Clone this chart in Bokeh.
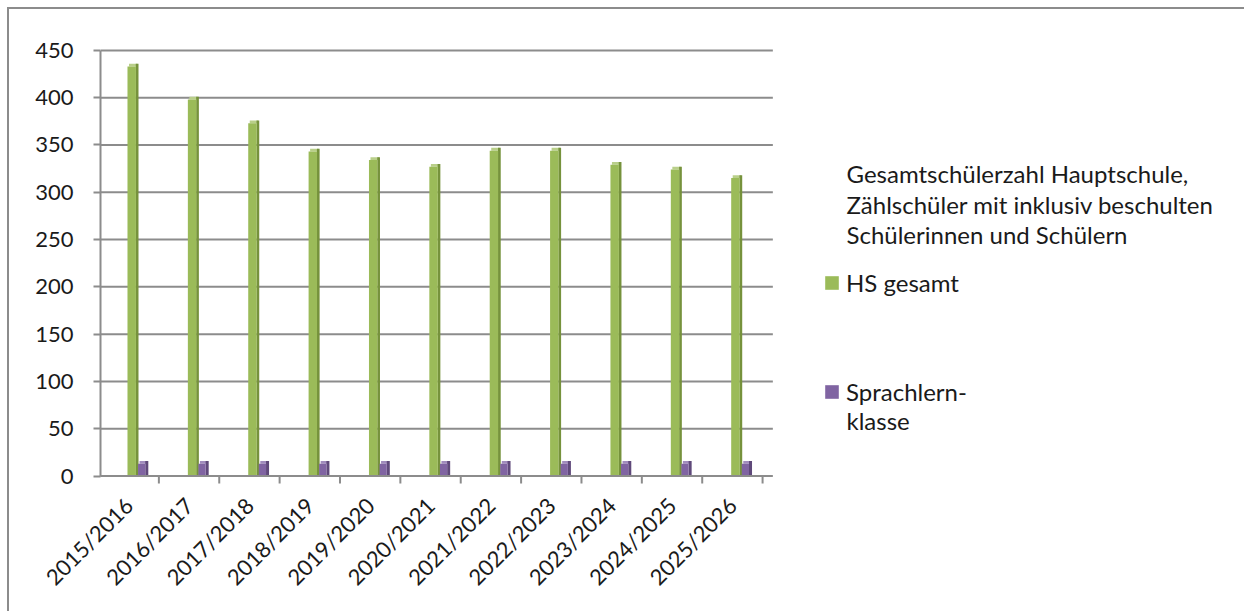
from bokeh.plotting import figure
from bokeh.models import (Range1d, FixedTicker, Legend, LegendItem, Label,
                          ColumnDataSource)
from bokeh.embed import file_html
from bokeh.resources import INLINE
import math

# ---- data ----
years = ["2015/2016", "2016/2017", "2017/2018", "2018/2019", "2019/2020",
         "2020/2021", "2021/2022", "2022/2023", "2023/2024", "2024/2025", "2025/2026"]
hs_gesamt = [433, 398, 373, 343, 334, 327, 344, 344, 329, 324, 315]
sprachlern = [13, 13, 13, 13, 13, 13, 13, 13, 13, 13, 13]
y_ticks = [0, 50, 100, 150, 200, 250, 300, 350, 400, 450]
legend_title = ["Gesamtschülerzahl Hauptschule,",
                "Zählschüler mit inklusiv beschulten",
                "Schülerinnen und Schülern"]
series_names = ["HS gesamt", "Sprachlern-", "klasse"]

FONT = "Lato"
GREEN, GREEN_D, GREEN_T = "#9BBB59", "#76923C", "#B9CF8A"
PURPLE, PURPLE_D, PURPLE_T = "#8064A2", "#5F497A", "#A18CBD"
GRID = "#8C8C8C"
TXT = "#1A1A1A"

n = len(years)
centers = [i + 0.5 for i in range(n)]

W, H = 1244, 611
p = figure(x_range=Range1d(0.033, 18.85), y_range=Range1d(-10, 452),
           width=W, height=H, output_backend="svg", toolbar_location=None,
           min_border_left=100, min_border_right=8, min_border_top=48,
           min_border_bottom=126)
p.outline_line_color = None
p.border_fill_color = None
p.styles = {"box-shadow": "inset 7px 7px 0 0 white, inset 9px 9px 0 0 #8C8C8C"}

# back-wall grid lines (only behind the bars)
p.xgrid.grid_line_color = None
p.ygrid.grid_line_color = None
p.segment(x0=[0.033] * len(y_ticks), x1=[n + 0.17] * len(y_ticks),
          y0=y_ticks, y1=y_ticks, line_color=GRID, line_width=2)

src = ColumnDataSource(dict(
    year=years,
    g_front=[c + 0.05 for c in centers], g_side=[c + 0.14 for c in centers],
    g_top=[c + 0.075 for c in centers],
    s_front=[c + 0.215 for c in centers], s_side=[c + 0.30 for c in centers],
    s_top=[c + 0.24 for c in centers],
    hs=hs_gesamt, sp=sprachlern,
    hs_cap=[v + 3 for v in hs_gesamt], sp_cap=[v + 3 for v in sprachlern]))

# bars: front face + darker side face + light top face (pseudo 3D)
p.vbar(x="g_top", top="hs_cap", bottom="hs", width=0.14,
       fill_color=GREEN_T, line_color=None, source=src)
p.vbar(x="g_side", top="hs_cap", bottom=0, width=0.045,
       fill_color=GREEN_D, line_color=None, source=src)
g_front = p.vbar(x="g_front", top="hs", bottom=0, width=0.14,
                 fill_color=GREEN, line_color=None, source=src)
p.vbar(x="s_top", top="sp_cap", bottom="sp", width=0.12,
       fill_color=PURPLE_T, line_color=None, source=src)
p.vbar(x="s_side", top="sp_cap", bottom=0, width=0.05,
       fill_color=PURPLE_D, line_color=None, source=src)
s_front = p.vbar(x="s_front", top="sp", bottom=0, width=0.12,
                 fill_color=PURPLE, line_color=None, source=src)

# floor line and category boundary ticks
bounds = list(range(n + 1))
p.segment(x0=[0], x1=[n + 0.05], y0=[0], y1=[0], line_color=GRID, line_width=2)
p.segment(x0=bounds, x1=bounds, y0=[0] * (n + 1), y1=[-8] * (n + 1),
          line_color=GRID, line_width=2)

# y axis
p.yaxis.ticker = FixedTicker(ticks=y_ticks)
p.yaxis.bounds = (0, 450)
p.yaxis.axis_line_color = GRID
p.yaxis.axis_line_width = 2
p.yaxis.major_tick_line_color = GRID
p.yaxis.major_tick_line_width = 2
p.yaxis.major_tick_out = 7
p.yaxis.major_tick_in = 0
p.yaxis.minor_tick_line_color = None
p.yaxis.major_label_standoff = 20
p.yaxis.major_label_text_font = FONT
p.yaxis.major_label_text_font_size = "22px"
p.yaxis.major_label_text_color = TXT

# x axis: year labels at category centres
p.xaxis.ticker = FixedTicker(ticks=centers)
p.xaxis.major_label_overrides = {c: y for c, y in zip(centers, years)}
p.xaxis.axis_line_color = None
p.xaxis.major_tick_line_color = None
p.xaxis.minor_tick_line_color = None
p.xaxis.major_label_orientation = math.pi / 4
p.xaxis.major_label_standoff = 10
p.xaxis.major_label_text_font = FONT
p.xaxis.major_label_text_font_size = "22px"
p.xaxis.major_label_text_color = TXT

# legend (two single-item legends placed in frame screen space)
def make_legend(renderer, label, loc):
    lg = Legend(items=[LegendItem(label=label, renderers=[renderer])],
                location=loc, padding=0, margin=0, spacing=0,
                glyph_width=17, glyph_height=17, label_standoff=6,
                label_text_font=FONT, label_text_font_size="24px",
                label_text_color=TXT, border_line_color=None,
                background_fill_alpha=0)
    p.add_layout(lg, "center")

FB = 485.5  # frame bottom in page pixels
make_legend(g_front, series_names[0], (723, FB - 297))
make_legend(s_front, series_names[1], (723, FB - 406))

LSHIFT = 8
p.add_layout(Label(x=746, y=FB - 428 + LSHIFT, x_units="screen", y_units="screen",
                   text=series_names[2], text_font=FONT,
                   text_font_size="24px", text_color=TXT,
                   text_baseline="alphabetic"))

for txt, base in zip(legend_title, [181, 212, 242]):
    p.add_layout(Label(x=746, y=FB - base + LSHIFT, x_units="screen", y_units="screen",
                       text=txt, text_font=FONT, text_font_size="24px",
                       text_color=TXT, text_baseline="alphabetic"))

open("out.html", "w").write(file_html(p, INLINE))
